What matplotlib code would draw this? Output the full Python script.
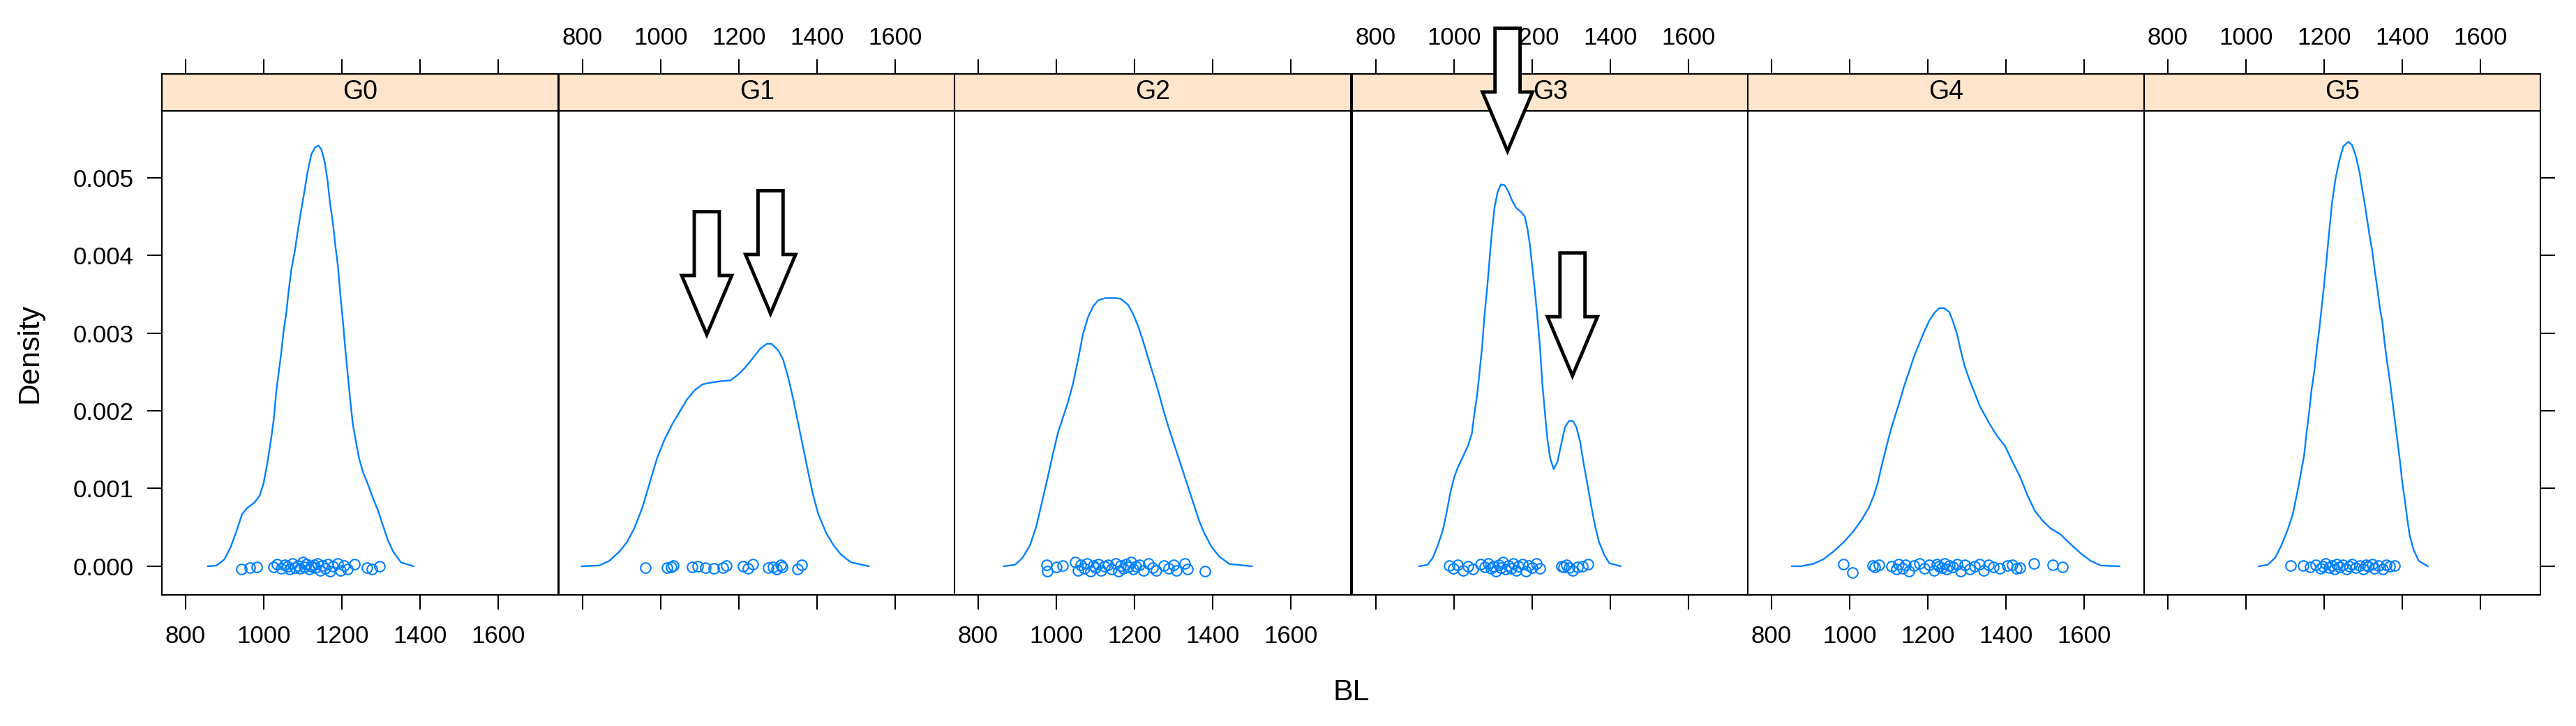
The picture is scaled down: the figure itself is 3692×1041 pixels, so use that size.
import numpy as np
import matplotlib.pyplot as plt
from matplotlib.patches import Polygon

plt.rcParams['font.family'] = ['Liberation Sans', 'DejaVu Sans']

groups = ['G0', 'G1', 'G2', 'G3', 'G4', 'G5']

# density curves: BL values and density (x 1e-3)
g0_x = [858, 880, 900, 916, 932, 945, 958, 977, 990, 1000, 1009, 1019, 1026, 1032, 1038, 1045,
        1051, 1058, 1064, 1071, 1080, 1087, 1096, 1103, 1112, 1122, 1132, 1140, 1148, 1157, 1164,
        1170, 1178, 1183, 1190, 1196, 1203, 1209, 1215, 1222, 1228, 1235, 1244, 1254, 1267, 1280,
        1293, 1306, 1318, 1331, 1351, 1383]
g0_d = [0.0, 0.01, 0.09, 0.25, 0.47, 0.67, 0.75, 0.82, 0.91, 1.07, 1.31, 1.63, 1.89, 2.23, 2.47, 2.74,
        3.02, 3.26, 3.54, 3.82, 4.06, 4.30, 4.58, 4.78, 5.06, 5.30, 5.39, 5.41, 5.36, 5.18, 4.94,
        4.66, 4.38, 4.14, 3.86, 3.50, 3.14, 2.78, 2.47, 2.11, 1.83, 1.63, 1.39, 1.21, 1.05, 0.87,
        0.71, 0.51, 0.33, 0.19, 0.05, 0.0]

g1_x = [798, 843, 869, 895, 914, 933, 953, 972, 991, 1010, 1030, 1049, 1068, 1088, 1107, 1126,
        1152, 1178, 1197, 1217, 1236, 1255, 1271, 1284, 1300, 1313, 1326, 1339, 1352, 1365, 1378,
        1390, 1403, 1423, 1442, 1461, 1487, 1532]
g1_d = [0.0, 0.01, 0.07, 0.19, 0.31, 0.49, 0.75, 1.07, 1.39, 1.63, 1.83, 1.99, 2.15, 2.27, 2.34, 2.36,
        2.38, 2.39, 2.46, 2.56, 2.68, 2.80, 2.86, 2.86, 2.78, 2.66, 2.43, 2.15, 1.83, 1.51, 1.19,
        0.91, 0.67, 0.43, 0.27, 0.15, 0.05, 0.0]

g2_x = [866, 895, 914, 933, 949, 962, 975, 991, 1004, 1017, 1030, 1043, 1056, 1068, 1081, 1094,
        1107, 1126, 1152, 1165, 1184, 1197, 1210, 1223, 1236, 1249, 1262, 1275, 1287, 1300, 1313,
        1326, 1339, 1352, 1365, 1378, 1397, 1416, 1442, 1500]
g2_d = [0.0, 0.02, 0.11, 0.27, 0.51, 0.79, 1.07, 1.43, 1.71, 1.91, 2.11, 2.35, 2.66, 2.98, 3.20, 3.34,
        3.42, 3.45, 3.45, 3.44, 3.36, 3.24, 3.08, 2.88, 2.66, 2.45, 2.23, 1.99, 1.79, 1.59, 1.39,
        1.19, 0.99, 0.79, 0.59, 0.43, 0.25, 0.13, 0.03, 0.0]

g3_x = [911, 933, 946, 959, 972, 982, 991, 1001, 1010, 1023, 1036, 1046, 1052, 1059, 1065, 1072,
        1078, 1085, 1091, 1097, 1104, 1112, 1120, 1130, 1139, 1149, 1159, 1171, 1181, 1188, 1194,
        1200, 1207, 1213, 1220, 1226, 1233, 1239, 1246, 1255, 1265, 1275, 1284, 1294, 1304, 1313,
        1323, 1332, 1342, 1352, 1361, 1371, 1384, 1397, 1426]
g3_d = [0.0, 0.02, 0.11, 0.27, 0.47, 0.71, 0.95, 1.15, 1.27, 1.41, 1.55, 1.71, 1.95, 2.19, 2.47, 2.82,
        3.22, 3.58, 3.94, 4.30, 4.62, 4.82, 4.91, 4.90, 4.82, 4.70, 4.61, 4.56, 4.50, 4.34, 4.14,
        3.86, 3.54, 3.22, 2.82, 2.35, 1.95, 1.63, 1.39, 1.25, 1.35, 1.59, 1.79, 1.87, 1.87, 1.79,
        1.59, 1.31, 1.03, 0.75, 0.51, 0.31, 0.15, 0.04, 0.0]

g4_x = [853, 875, 907, 933, 959, 985, 1010, 1030, 1049, 1062, 1072, 1081, 1091, 1101, 1110, 1120,
        1130, 1139, 1152, 1165, 1178, 1191, 1204, 1217, 1229, 1242, 1255, 1265, 1275, 1284, 1294,
        1307, 1320, 1332, 1345, 1358, 1378, 1397, 1416, 1436, 1455, 1474, 1493, 1513, 1539, 1564,
        1590, 1616, 1642, 1690]
g4_d = [0.0, 0.0, 0.03, 0.09, 0.19, 0.31, 0.45, 0.59, 0.75, 0.91, 1.07, 1.27, 1.47, 1.67, 1.83, 1.99,
        2.15, 2.31, 2.50, 2.70, 2.86, 3.02, 3.16, 3.26, 3.32, 3.32, 3.27, 3.14, 2.98, 2.78, 2.58,
        2.39, 2.23, 2.07, 1.95, 1.83, 1.67, 1.55, 1.35, 1.15, 0.91, 0.71, 0.59, 0.49, 0.41, 0.29,
        0.17, 0.07, 0.01, 0.0]

g5_x = [1033, 1056, 1075, 1091, 1107, 1120, 1130, 1139, 1149, 1155, 1162, 1168, 1175, 1181, 1188,
        1194, 1200, 1207, 1213, 1220, 1229, 1239, 1249, 1262, 1271, 1281, 1291, 1297, 1304, 1310,
        1316, 1323, 1329, 1336, 1342, 1349, 1355, 1361, 1368, 1374, 1381, 1387, 1394, 1400, 1407,
        1413, 1419, 1429, 1442, 1465]
g5_d = [0.0, 0.02, 0.11, 0.27, 0.47, 0.67, 0.91, 1.15, 1.43, 1.71, 1.99, 2.27, 2.51, 2.78, 3.06,
        3.34, 3.62, 3.98, 4.30, 4.66, 4.98, 5.22, 5.40, 5.46, 5.42, 5.28, 5.06, 4.86, 4.66, 4.46,
        4.26, 4.06, 3.82, 3.58, 3.34, 3.14, 2.86, 2.63, 2.39, 2.15, 1.87, 1.63, 1.35, 1.07, 0.83,
        0.59, 0.39, 0.21, 0.07, 0.0]

# raw BL values plotted along the bottom, with their vertical jitter (x 1e-5)
g0_pts = [944, 964, 982, 1025, 1035, 1045, 1054, 1061, 1067, 1074, 1080, 1087, 1093, 1100, 1103,
          1109, 1116, 1122, 1129, 1132, 1138, 1145, 1151, 1158, 1164, 1170, 1177, 1190, 1196, 1206,
          1215, 1232, 1264, 1277, 1296]
g0_jit = [-4, -2, -1, -1, 3, -3, 2, 0, -4, 4, -2, 1, -3, 5, -1, 3, -4, 0, 2, -2, 4, -5, 1, -3, 3,
          -6, 0, 4, -5, 1, -4, 3, -2, -4, 0]
g1_pts = [962, 1017, 1027, 1033, 1081, 1094, 1114, 1136, 1159, 1168, 1210, 1223, 1236, 1275, 1287,
          1297, 1307, 1310, 1349, 1361]
g1_jit = [-2, -2, -1, 1, -1, 0, -2, -3, -2, 1, 0, -3, 3, -2, -1, -4, 2, -1, -4, 2]
g2_pts = [975, 978, 1001, 1017, 1049, 1056, 1062, 1072, 1078, 1088, 1094, 1101, 1107, 1114, 1123,
          1133, 1142, 1152, 1159, 1165, 1171, 1178, 1184, 1191, 1197, 1204, 1213, 1223, 1236, 1246,
          1255, 1275, 1287, 1300, 1307, 1329, 1336, 1381]
g2_jit = [2, -6, -1, 1, 5, -5, 2, -3, 4, -6, 1, -2, 3, -5, 0, 2, -4, 4, -6, 1, -3, 3, -1, 5, -4, 0,
          2, -5, 4, -2, -5, 1, -3, 2, -5, 4, -4, -6]
g3_pts = [988, 998, 1010, 1023, 1036, 1049, 1068, 1078, 1088, 1094, 1101, 1107, 1114, 1120, 1126,
          1133, 1139, 1146, 1152, 1159, 1165, 1175, 1184, 1191, 1200, 1210, 1220, 1275, 1281, 1287,
          1294, 1304, 1316, 1329, 1342]
g3_jit = [1, -3, 2, -5, 0, -4, 3, -1, 4, -3, 0, -6, 2, -2, 5, -4, 1, -3, 4, -5, 0, 3, -6, 1, -2, 4,
          -3, 0, -1, 2, -2, -5, -1, 0, 3]
g4_pts = [985, 1007, 1059, 1065, 1075, 1107, 1120, 1126, 1136, 1143, 1152, 1165, 1178, 1191, 1204,
          1217, 1223, 1229, 1236, 1242, 1249, 1255, 1265, 1275, 1284, 1294, 1307, 1320, 1332, 1342,
          1355, 1368, 1384, 1403, 1416, 1426, 1436, 1471, 1519, 1545]
g4_jit = [3, -8, 1, -1, 2, 0, -4, 3, -3, 2, -6, 1, 4, -3, 2, -5, 3, 0, -2, 4, -4, 1, -1, 3, -6, 2,
          -4, 0, 3, -5, 2, -1, -3, 1, 2, -3, -2, 4, 2, -1]
g5_pts = [1114, 1146, 1165, 1178, 1191, 1197, 1204, 1213, 1220, 1226, 1233, 1239, 1249, 1258, 1265,
          1271, 1281, 1291, 1300, 1307, 1313, 1323, 1329, 1339, 1349, 1358, 1368, 1381]
g5_jit = [1, 1, -1, 2, -3, 0, 4, -2, 1, -4, 3, -1, 2, -4, 0, 3, -2, 1, -4, 2, 0, 3, -3, 1, -4, 2, 0, 1]

curves_x = [g0_x, g1_x, g2_x, g3_x, g4_x, g5_x]
curves_d = [g0_d, g1_d, g2_d, g3_d, g4_d, g5_d]
points = [g0_pts, g1_pts, g2_pts, g3_pts, g4_pts, g5_pts]
jitter = [g0_jit, g1_jit, g2_jit, g3_jit, g4_jit, g5_jit]

x_ticks = [800, 1000, 1200, 1400, 1600]
y_ticks = [0.0, 0.001, 0.002, 0.003, 0.004, 0.005]

# hand drawn arrows: panel, tip BL, tip density
arrow_panel = [1, 1, 3, 3]
arrow_x = [1118, 1281, 1137, 1303]
arrow_y = [0.00298, 0.00325, 0.00534, 0.00245]

line_col = '#0080ff'
strip_col = '#ffe5cc'

W, H = 3692, 1041
fig = plt.figure(figsize=(W / 100, H / 100), dpi=100)

lefts = [232, 801, 1368, 1938, 2505, 3073]
pw = 567.5
xlim = (740, 1752)
ylim = (-0.000368, 0.005857)

panels = []
for i, g in enumerate(groups):
    sax = fig.add_axes([lefts[i] / W, (H - 159) / H, pw / W, 53 / H])
    ax = fig.add_axes([lefts[i] / W, (H - 853) / H, pw / W, 694 / H])
    panels.append(ax)

    # strip with the top axis
    sax.set_facecolor(strip_col)
    sax.set_xlim(xlim)
    sax.set_ylim(0, 1)
    sax.set_yticks([])
    sax.set_xticks(x_ticks)
    sax.tick_params(axis='x', which='both', top=True, bottom=False, labeltop=(i % 2 == 1),
                    labelbottom=False, direction='out', length=15, width=1.5,
                    labelsize=25, pad=10)
    sax.text(0.5, 0.5, g, transform=sax.transAxes, ha='center', va='center', fontsize=27)
    for sp in sax.spines.values():
        sp.set_linewidth(1.5)

    ax.plot(curves_x[i], np.array(curves_d[i]) * 1e-3, color=line_col, lw=1.7)
    ax.plot(points[i], np.array(jitter[i]) * 1e-5, 'o', mfc='none', mec=line_col, ms=10.5, mew=1.5)
    ax.set_xlim(xlim)
    ax.set_ylim(ylim)
    ax.set_xticks(x_ticks)
    ax.tick_params(axis='x', top=False, bottom=True, labelbottom=(i % 2 == 0),
                   direction='out', length=15, width=1.5, labelsize=25, pad=16)
    ax.set_yticks(y_ticks)
    ax.set_yticklabels(['%.3f' % v for v in y_ticks])
    ax.tick_params(axis='y', left=(i == 0), labelleft=(i == 0), right=(i == 5), labelright=False,
                   direction='out', length=15, width=1.5, labelsize=25, pad=14)
    for sp in ax.spines.values():
        sp.set_linewidth(1.5)

fig.text(42 / W, 1 - 506 / H, 'Density', rotation=90, ha='center', va='center', fontsize=31)
fig.text(1937 / W, 1 - 993 / H, 'BL', ha='center', va='center', fontsize=31)

hw, sw, hh, sl = 64, 32, 0.00076, 0.00082
for p, tx, ty in zip(arrow_panel, arrow_x, arrow_y):
    ax = panels[p]
    verts = [(tx, ty), (tx - hw, ty + hh), (tx - sw, ty + hh), (tx - sw, ty + hh + sl),
             (tx + sw, ty + hh + sl), (tx + sw, ty + hh), (tx + hw, ty + hh)]
    fig.add_artist(Polygon(verts, closed=True, transform=ax.transData, fc='white', ec='black',
                           lw=3.5, joinstyle='miter', zorder=5))

fig.savefig('out.png', dpi=100)
